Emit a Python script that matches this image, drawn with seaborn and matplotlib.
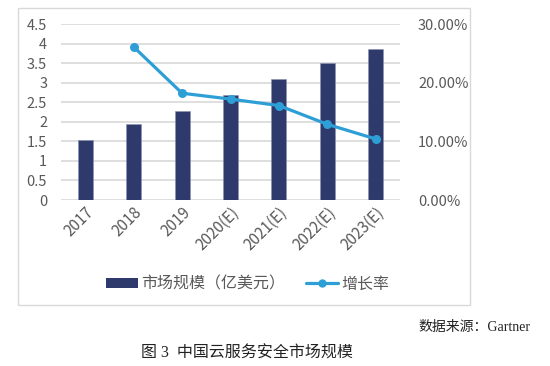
import numpy as np
import pandas as pd
import matplotlib
matplotlib.use('Agg')
import matplotlib.pyplot as plt
from matplotlib.patches import Rectangle, Patch
from matplotlib.lines import Line2D
from matplotlib.ticker import PercentFormatter
import seaborn as sns

# 数据
years = ['2017', '2018', '2019', '2020(E)', '2021(E)', '2022(E)', '2023(E)']
market_size = [1.53, 1.94, 2.28, 2.68, 3.10, 3.50, 3.87]   # 亿美元
growth_rate = [np.nan, 0.261, 0.182, 0.172, 0.161, 0.129, 0.104]

bar_color = '#2E3A6B'
line_color = '#2E9FD6'
tick_color = '#595959'
grid_color = '#D9D9D9'

sns.set_theme(style='white')
plt.rcParams['font.family'] = ['Noto Sans CJK SC', 'DejaVu Sans']
plt.rcParams['axes.unicode_minus'] = False

df = pd.DataFrame({'year': years, 'size': market_size, 'growth': growth_rate})
df['pos'] = np.arange(len(df))

fig = plt.figure(figsize=(5.5, 3.66), dpi=100)
ax = fig.add_axes([61 / 550, 1 - 200 / 366, (400 - 61) / 550, 176 / 366])

# 柱状图
sns.barplot(data=df, x='year', y='size', color=bar_color, saturation=1,
            width=0.31, edgecolor='#8a93b5', linewidth=0.4, ax=ax, zorder=2)
ax.set_ylim(0, 4.5)
ax.set_yticks(np.arange(0, 4.51, 0.5))
ax.set_yticklabels(['0', '0.5', '1', '1.5', '2', '2.5', '3', '3.5', '4', '4.5'])
ax.yaxis.grid(True, color=grid_color, lw=1.2, zorder=0)
ax.set_axisbelow(True)
ax.set_xlabel('')
ax.set_ylabel('')
for s in ax.spines.values():
    s.set_visible(False)
ax.tick_params(axis='y', length=0, pad=10, labelsize=10.5, labelcolor=tick_color)
ax.tick_params(axis='x', length=0, pad=3, labelsize=11, labelcolor=tick_color)
ax.set_xticks(df['pos'])
ax.set_xticklabels(years, rotation=45, ha='right', rotation_mode='anchor')
ax.set_xlim(-0.5, len(years) - 0.5)

# 增长率折线
ax2 = ax.twinx()
gdf = df.dropna()
sns.lineplot(data=gdf, x='pos', y='growth', color=line_color, lw=2.3,
             marker='o', markersize=6.5, markeredgewidth=0, ax=ax2, zorder=3)
ax2.set_ylim(0, 0.30)
ax2.set_yticks([0, 0.1, 0.2, 0.3])
ax2.yaxis.set_major_formatter(PercentFormatter(1.0, decimals=2))
ax2.set_ylabel('')
for s in ax2.spines.values():
    s.set_visible(False)
ax2.tick_params(axis='y', length=0, pad=13, labelsize=10.5, labelcolor=tick_color)
ax2.set_xlim(-0.5, len(years) - 0.5)

# 外框
fig.add_artist(Rectangle((18 / 550, 1 - 305 / 366), (470 - 18) / 550, (305 - 8) / 366,
                         transform=fig.transFigure, fill=False, ec='#D9D9D9', lw=1))

# 图例
handles = [Patch(facecolor=bar_color, edgecolor='none'),
           Line2D([0], [0], color=line_color, lw=2.3, marker='o', markersize=5)]
fig.legend(handles, ['市场规模（亿美元）', '增长率'], loc='center',
           bbox_to_anchor=(248 / 550, 1 - 284 / 366), ncol=2, frameon=False,
           fontsize=11.5, labelcolor=tick_color, handlelength=2.0, handleheight=0.6,
           handletextpad=0.2, columnspacing=1.3)

# 数据来源与标题
fig.text(530 / 550, 1 - 327 / 366, '数据来源：Gartner', ha='right', va='center',
         fontsize=10, family=['Liberation Serif', 'Noto Sans CJK SC'], color='#222222')
fig.text(247 / 550, 1 - 354 / 366, '图 3  中国云服务安全市场规模', ha='center', va='center',
         fontsize=11.5, family=['Liberation Serif', 'Noto Sans CJK SC'], color='#222222')

plt.savefig('out.png', dpi=100, facecolor='white')
